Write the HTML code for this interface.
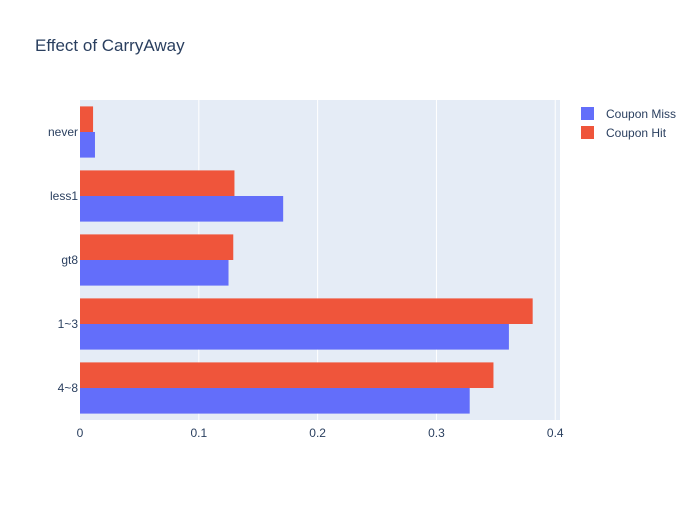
<!DOCTYPE html>
<html><head><meta charset="utf-8"><style>
body{margin:0;background:#fff;}
svg{font-family:"Liberation Sans",Arial,sans-serif;}
</style></head><body>
<svg id="chart" width="700" height="500">
<rect width="700" height="500" fill="#fff"/>
<text x="35" y="51" font-size="17" fill="#2a3f5f">Effect of CarryAway</text>
<rect x="80" y="100" width="480" height="320" fill="#e5ecf6"/>
<g id="grid"></g><g id="bars"></g><g id="xticks"></g><g id="yticks"></g>
<g>
<rect x="581" y="107" width="13" height="13" fill="#636efa"/>
<text x="606" y="118" font-size="12" fill="#2a3f5f">Coupon Miss</text>
<rect x="581" y="126" width="13" height="13" fill="#EF553B"/>
<text x="606" y="137" font-size="12" fill="#2a3f5f">Coupon Hit</text>
</g>
</svg>
<script>
const categories=["never","less1","gt8","1~3","4~8"];
const missValues=[0.0126,0.171,0.125,0.361,0.328];
const hitValues=[0.011,0.130,0.129,0.381,0.348];
const xTicks=[0,0.1,0.2,0.3,0.4];
const xTickLabels=["0","0.1","0.2","0.3","0.4"];
const NS="http://www.w3.org/2000/svg";
const L=80,R=560,T=100,B=420,XMAX=0.404;
const xs=v=>L+v/XMAX*(R-L);
const band=(B-T)/categories.length;
const yc=i=>T+band*(i+0.5);
function mk(tag,a,p){const e=document.createElementNS(NS,tag);for(const k in a)e.setAttribute(k,a[k]);document.getElementById(p).appendChild(e);return e;}
xTicks.forEach((t,i)=>{
 if(t>0){const g=mk("line",{x1:xs(t),x2:xs(t),y1:T,y2:B,stroke:"#fff","stroke-width":1},"grid");
 
 }
 const tx=mk("text",{x:xs(t),y:B+17,"font-size":12,fill:"#2a3f5f","text-anchor":"middle"},"xticks");
 tx.textContent=xTickLabels[i];
 
 
});
const bw=band*0.8/2;
categories.forEach((c,i)=>{
 const top=yc(i)-band*0.4;
 const h=mk("rect",{x:L,y:top,width:xs(hitValues[i])-L,height:bw,fill:"#EF553B"},"bars");
 
 
 const m=mk("rect",{x:L,y:top+bw,width:xs(missValues[i])-L,height:bw,fill:"#636efa"},"bars");
 
 
 const t=mk("text",{x:L-2,y:yc(i)+4,"font-size":12,fill:"#2a3f5f","text-anchor":"end"},"yticks");
 t.textContent=c;
 
 
});
</script>
</body></html>
